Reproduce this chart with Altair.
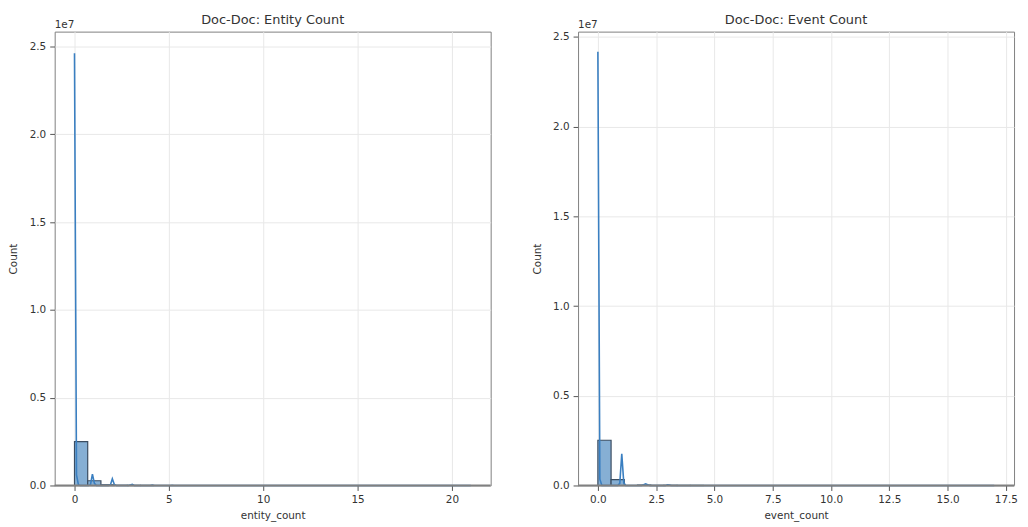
import altair as alt
import pandas as pd

# ---------------- Entity count panel ----------------
entity_bin_width = 0.7
entity_bin_start = [0.0, 0.7, 1.4, 2.1, 2.8, 3.5]
entity_bin_count = [2.50e6, 2.7e5, 4.0e4, 8.0e3, 4.0e3, 1.5e3]

entity_kde_x = [0.0, 0.106, 0.211, 0.317, 0.739, 0.844, 0.950, 1.055, 1.161,
                1.794, 1.899, 2.005, 2.111, 2.216, 2.849, 2.955, 3.060, 3.166,
                4.010, 4.116, 4.221, 5.065, 5.171, 5.276, 21.0]
entity_kde_y = [24.62e6, 0.60e6, 0.02e6, 0.0, 0.0, 0.03e6, 0.65e6, 0.12e6, 0.0,
                0.0, 0.02e6, 0.38e6, 0.06e6, 0.0, 0.0, 0.03e6, 0.06e6, 0.0,
                0.0, 0.02e6, 0.0, 0.0, 0.01e6, 0.0, 0.0]

# ---------------- Event count panel ----------------
event_bin_width = 17 / 30
event_bin_start = [0.0, 0.5667, 1.1333, 1.7, 2.2667, 2.8333, 3.4, 3.9667]
event_bin_count = [2.52e6, 3.3e5, 0.0, 1.5e4, 3.0e3, 6.0e3, 1.0e3, 1.0e3]

event_kde_x = [0.0, 0.085, 0.171, 0.854, 0.940, 1.025, 1.111, 1.196, 1.879,
               1.965, 2.050, 2.136, 2.221, 2.904, 2.990, 3.075, 3.161, 17.0]
event_kde_y = [24.18e6, 0.35e6, 0.0, 0.0, 0.12e6, 1.77e6, 0.15e6, 0.0, 0.0,
               0.04e6, 0.09e6, 0.04e6, 0.0, 0.0, 0.04e6, 0.02e6, 0.0, 0.0]

y_ticks = [0, 5e6, 1e7, 1.5e7, 2e7, 2.5e7]
entity_x_ticks = [0, 5, 10, 15, 20]
event_x_ticks = [0, 2.5, 5, 7.5, 10, 12.5, 15, 17.5]

BAR_FILL = "#86afd4"
BAR_EDGE = "#3b4d61"
LINE_COL = "#3a7fc1"
FRAME = "#808080"
W, H = 439, 457


def panel(title, xlabel, bin_start, bin_count, bin_width, kde_x, kde_y,
          xdomain, ydomain, xticks, xfmt):
    bars_df = pd.DataFrame({"start": bin_start, "count": bin_count})
    kde_df = pd.DataFrame({"x": kde_x, "y": kde_y})
    xs = alt.Scale(domain=xdomain, nice=False, zero=False)
    ys = alt.Scale(domain=ydomain, nice=False, zero=False)
    xaxis = alt.Axis(values=xticks, format=xfmt, title=xlabel, titlePadding=6)
    yaxis = alt.Axis(values=y_ticks, labelExpr="format(datum.value / 1e7, '.1f')",
                     title="Count", titlePadding=8, minExtent=28, maxExtent=28)

    bars = alt.Chart(bars_df).transform_calculate(
        end=f"datum.start + {bin_width}"
    ).mark_bar(fill=BAR_FILL, stroke=BAR_EDGE, strokeWidth=1.2, opacity=1).encode(
        x=alt.X("start:Q", scale=xs, axis=xaxis),
        x2="end:Q",
        y=alt.Y("count:Q", scale=ys, axis=yaxis),
        y2=alt.datum(0),
    )
    line = alt.Chart(kde_df).mark_line(color=LINE_COL, strokeWidth=1.6).encode(
        x=alt.X("x:Q", scale=xs),
        y=alt.Y("y:Q", scale=ys),
    )
    # bottom spine drawn over the curve, as in the original
    spine = alt.Chart(pd.DataFrame({"s": [0]})).mark_rule(
        color=FRAME, strokeWidth=2
    ).encode(x=alt.value(0), x2=alt.value(W), y=alt.value(H))
    offset_txt = alt.Chart(pd.DataFrame({"t": ["1e7"]})).mark_text(
        align="left", baseline="bottom", fontSize=10.5, color="#333333"
    ).encode(x=alt.value(0), y=alt.value(-2), text="t:N")

    return alt.layer(bars, line, spine, offset_txt).properties(
        width=W, height=H,
        title=alt.TitleParams(title, fontSize=13, fontWeight="normal",
                              color="#333333", offset=-7, anchor="middle"),
    )


left = panel("Doc-Doc: Entity Count", "entity_count", entity_bin_start,
             entity_bin_count, entity_bin_width, entity_kde_x, entity_kde_y,
             [-1.05, 22.05], [0, 2.585e7], entity_x_ticks, "d")
right = panel("Doc-Doc: Event Count", "event_count", event_bin_start,
              event_bin_count, event_bin_width, event_kde_x, event_kde_y,
              [-0.85, 17.85], [0, 2.53e7], event_x_ticks, ".1f")

chart = alt.hconcat(left, right, spacing=39).properties(
    padding={"left": 0, "top": 3, "right": 2, "bottom": 0}
).configure(font="DejaVu Sans").configure_view(
    stroke=FRAME, strokeWidth=1
).configure_axis(
    domain=False, grid=True, gridColor="#e8e8e8", gridWidth=1,
    tickColor="#555555", tickSize=5, labelPadding=4,
    labelColor="#333333", labelFontSize=10.5,
    titleColor="#333333", titleFontSize=10.5, titleFontWeight="normal",
)

chart.save("out.html", embed_options={"renderer": "svg", "actions": False})
